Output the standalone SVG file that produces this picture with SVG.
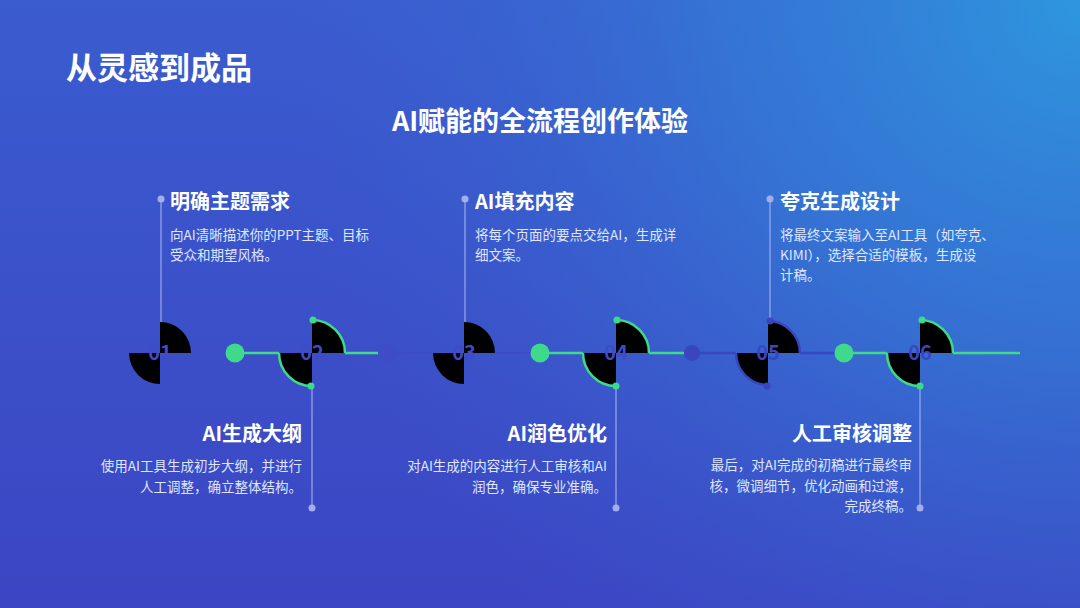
<svg xmlns="http://www.w3.org/2000/svg" width="1080" height="608" viewBox="0 0 1080 608">
  <defs>
    <linearGradient id="bg" x1="0" y1="0" x2="0" y2="608" gradientUnits="userSpaceOnUse">
      <stop offset="0" stop-color="#3a5ccf"/>
      <stop offset="1" stop-color="#3c45c3"/>
    </linearGradient>
    <radialGradient id="glow" cx="1080" cy="0" r="820" gradientUnits="userSpaceOnUse">
      <stop offset="0" stop-color="#2e96de" stop-opacity="1"/>
      <stop offset="0.45" stop-color="#3282d8" stop-opacity="0.6"/>
      <stop offset="1" stop-color="#3a5ccf" stop-opacity="0"/>
    </radialGradient>
    <style>
      .cjk { font-family: "Noto Sans CJK SC", "Noto Sans", sans-serif; }
      .h1 { font-size: 31px; font-weight: 700; fill: #ffffff; }
      .h2 { font-size: 27px; font-weight: 700; fill: #ffffff; }
      .t { font-size: 20px; font-weight: 700; fill: #ffffff; }
      .d { font-size: 13.5px; fill: #dfe6ff; }
      .num { font-size: 20px; font-weight: 700; fill: #3f4cc6; text-anchor: middle; }
      .vl { stroke: #a4afe9; stroke-width: 1.5; stroke-opacity: 0.75; }
      .vd { fill: #a4afe9; }
      .q { fill: #000000; }
      .g { stroke: #3fd98b; stroke-width: 2.5; fill: none; }
      .gd { fill: #3fd98b; }
      .k { stroke: #3a45c0; stroke-width: 2.5; fill: none; }
      .kd { fill: #3a45c0; }
      .f { stroke: #3d4bc5; stroke-width: 2; fill: none; }
      .fd { fill: #3f4cc6; }
    </style>
  </defs>

  <rect width="1080" height="608" fill="url(#bg)"/>
  <rect width="1080" height="608" fill="url(#glow)"/>

  <text class="cjk h1" x="66" y="79">从灵感到成品</text>
  <text class="cjk h2" x="540" y="131" text-anchor="middle">AI赋能的全流程创作体验</text>

  <g id="connectors">
    <line class="vl" x1="161" y1="199" x2="161" y2="322"/>
    <line class="vl" x1="312" y1="386" x2="312" y2="508"/>
    <line class="vl" x1="465" y1="199" x2="465" y2="322"/>
    <line class="vl" x1="616" y1="386" x2="616" y2="508"/>
    <line class="vl" x1="770" y1="199" x2="770" y2="322"/>
    <line class="vl" x1="920" y1="386" x2="920" y2="508"/>
    <circle class="vd" cx="161" cy="199" r="3.5"/>
    <circle class="vd" cx="312" cy="508" r="3.5"/>
    <circle class="vd" cx="465" cy="199" r="3.5"/>
    <circle class="vd" cx="616" cy="508" r="3.5"/>
    <circle class="vd" cx="770" cy="199" r="3.5"/>
    <circle class="vd" cx="920" cy="508" r="3.5"/>
    <circle class="fd" cx="388" cy="353" r="9"/>
    <line class="f" x1="397" y1="353" x2="432" y2="353"/>
    <line class="f" x1="496" y1="353" x2="531" y2="353"/>
    <circle class="kd" cx="692" cy="353" r="8"/>
    <line class="k" x1="700" y1="353" x2="736" y2="353"/>
    <line class="k" x1="800" y1="353" x2="835" y2="353"/>
    <circle class="gd" cx="235" cy="353" r="9.5"/>
    <line class="g" x1="235" y1="353" x2="279" y2="353"/>
    <line class="g" x1="345" y1="353" x2="378" y2="353"/>
    <circle class="gd" cx="540" cy="353" r="9.5"/>
    <line class="g" x1="540" y1="353" x2="583" y2="353"/>
    <line class="g" x1="649" y1="353" x2="684" y2="353"/>
    <circle class="gd" cx="844" cy="353" r="9.5"/>
    <line class="g" x1="844" y1="353" x2="887" y2="353"/>
    <line class="g" x1="953" y1="353" x2="1020" y2="353"/>
  </g>

  <g id="step1">
    <path class="q" d="M160,353 L160,322 A31,31 0 0 1 191,353 Z"/>
    <path class="q" d="M160,353 L129,353 A31,31 0 0 0 160,384 Z"/>
    <text class="cjk num" x="160" y="360">01</text>
    <text class="cjk t" x="170" y="209">明确主题需求</text>
    <text class="cjk d" x="170" y="240">向AI清晰描述你的PPT主题、目标</text>
    <text class="cjk d" x="170" y="260">受众和期望风格。</text>
  </g>

  <g id="step2">
    <path class="q" d="M312,353 L312,320 A33,33 0 0 1 345,353 Z"/>
    <path class="q" d="M312,353 L279,353 A33,33 0 0 0 312,386 Z"/>
    <path class="g" d="M312,320 A33,33 0 0 1 345,353"/>
    <path class="g" d="M279,353 A33,33 0 0 0 312,386"/>
    <circle class="gd" cx="313" cy="320" r="3.5"/>
    <circle class="gd" cx="311" cy="386" r="3.5"/>
    <text class="cjk num" x="312" y="360">02</text>
    <text class="cjk t" x="302" y="441" text-anchor="end">AI生成大纲</text>
    <text class="cjk d" x="302" y="471" text-anchor="end">使用AI工具生成初步大纲，并进行</text>
    <text class="cjk d" x="302" y="492" text-anchor="end">人工调整，确立整体结构。</text>
  </g>

  <g id="step3">
    <path class="q" d="M464,353 L464,322 A31,31 0 0 1 495,353 Z"/>
    <path class="q" d="M464,353 L433,353 A31,31 0 0 0 464,384 Z"/>
    <text class="cjk num" x="464" y="360">03</text>
    <text class="cjk t" x="475" y="209">AI填充内容</text>
    <text class="cjk d" x="475" y="240">将每个页面的要点交给AI，生成详</text>
    <text class="cjk d" x="475" y="260">细文案。</text>
  </g>

  <g id="step4">
    <path class="q" d="M616,353 L616,320 A33,33 0 0 1 649,353 Z"/>
    <path class="q" d="M616,353 L583,353 A33,33 0 0 0 616,386 Z"/>
    <path class="g" d="M616,320 A33,33 0 0 1 649,353"/>
    <path class="g" d="M583,353 A33,33 0 0 0 616,386"/>
    <circle class="gd" cx="617" cy="320" r="3.5"/>
    <circle class="gd" cx="616" cy="386" r="3.5"/>
    <text class="cjk num" x="616" y="360">04</text>
    <text class="cjk t" x="607" y="441" text-anchor="end">AI润色优化</text>
    <text class="cjk d" x="607" y="471" text-anchor="end">对AI生成的内容进行人工审核和AI</text>
    <text class="cjk d" x="607" y="492" text-anchor="end">润色，确保专业准确。</text>
  </g>

  <g id="step5">
    <path class="q" d="M768,353 L768,321 A32,32 0 0 1 800,353 Z"/>
    <path class="q" d="M768,353 L736,353 A32,32 0 0 0 768,385 Z"/>
    <path class="k" d="M768,321 A32,32 0 0 1 800,353"/>
    <path class="k" d="M736,353 A32,32 0 0 0 768,385"/>
    <circle class="kd" cx="770" cy="321" r="3.5"/>
    <circle class="kd" cx="767" cy="386" r="3.5"/>
    <text class="cjk num" x="768" y="360" style="fill:#3a46c0">05</text>
    <text class="cjk t" x="780" y="209">夸克生成设计</text>
    <text class="cjk d" x="780" y="240">将最终文案输入至AI工具（如夸克、</text>
    <text class="cjk d" x="780" y="260">KIMI），选择合适的模板，生成设</text>
    <text class="cjk d" x="780" y="280">计稿。</text>
  </g>

  <g id="step6">
    <path class="q" d="M920,353 L920,320 A33,33 0 0 1 953,353 Z"/>
    <path class="q" d="M920,353 L887,353 A33,33 0 0 0 920,386 Z"/>
    <path class="g" d="M920,320 A33,33 0 0 1 953,353"/>
    <path class="g" d="M887,353 A33,33 0 0 0 920,386"/>
    <circle class="gd" cx="922" cy="320" r="3.5"/>
    <circle class="gd" cx="920" cy="386" r="3.5"/>
    <text class="cjk num" x="920" y="360" style="fill:#3a46c0">06</text>
    <text class="cjk t" x="912" y="441" text-anchor="end">人工审核调整</text>
    <text class="cjk d" x="912" y="470" text-anchor="end">最后，对AI完成的初稿进行最终审</text>
    <text class="cjk d" x="912" y="491" text-anchor="end">核，微调细节，优化动画和过渡，</text>
    <text class="cjk d" x="912" y="511" text-anchor="end">完成终稿。</text>
  </g>
</svg>
